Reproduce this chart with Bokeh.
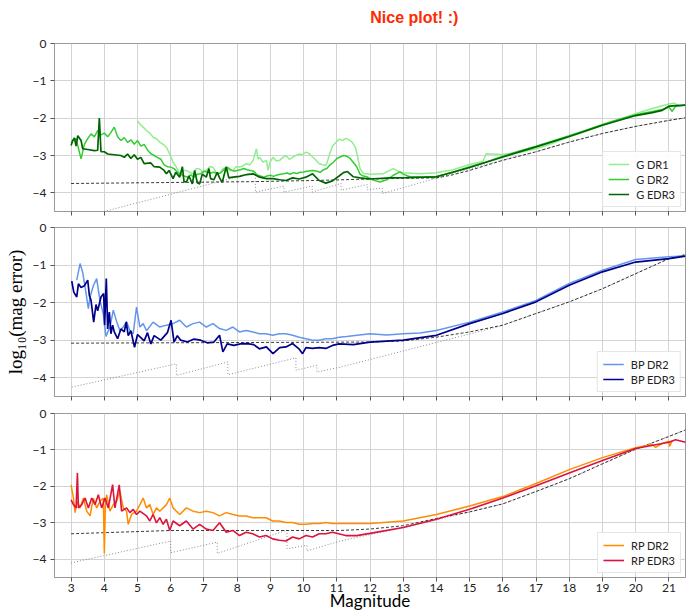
from bokeh.plotting import figure
from bokeh.models import Range1d, FixedTicker, CustomJSTickFormatter, Label
from bokeh.layouts import column
from bokeh.embed import file_html
from bokeh.resources import INLINE

# ---------------- data ----------------
x_ticks = list(range(3, 22))
y_ticks = [0, -1, -2, -3, -4]

# G band
g_dr1_mag = [5.0, 5.07, 5.17, 5.27, 5.37, 5.47, 5.57, 5.67, 5.77, 5.87, 5.97, 6.07, 6.17, 6.27, 6.37, 6.47,
             6.57, 6.67, 6.77, 6.87, 6.97, 7.07, 7.17, 7.27, 7.37, 7.47, 7.57, 7.67, 7.77, 7.87, 7.97, 8.07,
             8.17, 8.28, 8.38, 8.48, 8.58, 8.63, 8.68, 8.78, 8.88, 8.93, 8.98, 9.08, 9.18, 9.28, 9.38, 9.47,
             9.57, 9.67, 9.77, 9.87, 9.97, 10.07, 10.17, 10.27, 10.37, 10.47, 10.57, 10.67, 10.72, 10.77,
             10.87, 10.97, 11.07, 11.17, 11.27, 11.37, 11.47, 11.57, 11.62, 11.7, 11.8, 12.0, 12.4, 12.55,
             12.7, 12.85, 13.0, 13.5, 14.0, 14.5, 15.0, 15.4, 15.5, 16.0, 16.5, 17.0, 17.5, 18.0, 18.5, 19.0,
             19.5, 20.0, 20.5, 21.0, 21.15, 21.3]
g_dr1_err = [-2.07, -2.16, -2.24, -2.33, -2.4, -2.51, -2.55, -2.64, -2.7, -2.78, -2.96, -3.18, -3.31, -3.49, -3.4, -3.4,
             -3.45, -3.49, -3.35, -3.36, -3.45, -3.4, -3.3, -3.31, -3.45, -3.49, -3.35, -3.31, -3.4, -3.4, -3.3, -3.31,
             -3.28, -3.22, -3.25, -3.13, -2.82, -3.1, -3.05, -3.18, -3.13, -3.4, -3.2, -3.05, -3.15, -3.13, -3.05, -3.0,
             -3.1, -3.05, -3.0, -2.96, -2.98, -2.91, -2.95, -3.04, -3.12, -3.22, -3.25, -3.26, -3.15, -3.0,
             -2.75, -2.65, -2.56, -2.6, -2.54, -2.58, -2.65, -2.8, -3.0, -3.35, -3.48, -3.5, -3.49, -3.42,
             -3.35, -3.42, -3.46, -3.49, -3.46, -3.38, -3.24, -3.16, -2.95, -2.97, -2.92, -2.82, -2.67, -2.5, -2.35, -2.19,
             -2.04, -1.88, -1.74, -1.62, -1.6, -1.66]

g_dr2_mag = [3.0, 3.05, 3.15, 3.3, 3.4, 3.5, 3.6, 3.7, 3.8, 3.9, 4.0, 4.1, 4.2, 4.3, 4.4, 4.5, 4.6, 4.7, 4.8, 4.9,
             5.0, 5.1, 5.2, 5.3, 5.4, 5.5, 5.6, 5.7, 5.8, 5.9, 6.0, 6.1, 6.2, 6.3, 6.4, 6.5, 6.6, 6.7, 6.8, 6.9,
             7.0, 7.1, 7.2, 7.3, 7.4, 7.5, 7.6, 7.7, 7.8, 7.9, 8.0, 8.1, 8.2, 8.3, 8.4, 8.5, 8.6, 8.7, 8.8, 8.9,
             9.0, 9.1, 9.2, 9.3, 9.4, 9.5, 9.6, 9.7, 9.8, 9.9, 10.0, 10.1, 10.2, 10.3, 10.4, 10.5, 10.6, 10.7,
             10.8, 10.9, 11.0, 11.1, 11.2, 11.3, 11.4, 11.5, 11.6, 11.7, 11.8, 11.9, 12.1, 12.3, 12.5, 12.7,
             12.9, 13.0, 13.2, 13.6, 14.0, 14.5, 15.0, 15.5, 16.0, 16.5, 17.0, 17.5, 18.0, 18.5, 19.0, 19.5,
             20.0, 20.5, 20.8, 21.0, 21.1, 21.2, 21.5]
g_dr2_err = [-2.65, -2.6, -2.55, -3.09, -2.7, -2.55, -2.42, -2.5, -2.33, -2.45, -2.4, -2.5, -2.38, -2.24, -2.5, -2.6, -2.52, -2.65, -2.58, -2.7,
             -2.6, -2.75, -2.7, -2.85, -2.95, -3.0, -3.05, -3.1, -3.25, -3.3, -3.31, -3.35, -3.45, -3.5, -3.55, -3.58, -3.52, -3.58, -3.5, -3.49,
             -3.42, -3.44, -3.47, -3.45, -3.48, -3.47, -3.38, -3.31, -3.38, -3.42, -3.4, -3.38, -3.35, -3.38, -3.4, -3.42, -3.52, -3.55, -3.58, -3.55,
             -3.53, -3.56, -3.52, -3.5, -3.49, -3.47, -3.5, -3.46, -3.48, -3.45, -3.44, -3.42, -3.41, -3.4, -3.42, -3.45, -3.38, -3.35,
             -3.25, -3.18, -3.08, -3.04, -3.0, -3.02, -3.08, -3.19, -3.3, -3.5, -3.55, -3.57, -3.66, -3.71, -3.65, -3.53,
             -3.44, -3.5, -3.57, -3.58, -3.56, -3.45, -3.3, -3.17, -3.02, -2.88, -2.75, -2.61, -2.47, -2.32, -2.17, -2.03,
             -1.91, -1.82, -1.77, -1.7, -1.82, -1.68, -1.65]

g_edr3_mag = [3.0, 3.05, 3.1, 3.15, 3.2, 3.3, 3.35, 3.5, 3.7, 3.8, 3.85, 3.9, 4.0, 4.1, 4.3, 4.5, 4.6, 4.7, 4.8, 4.9,
              5.0, 5.1, 5.2, 5.4, 5.5, 5.67, 5.8, 5.87, 5.95, 6.07, 6.15, 6.27, 6.35, 6.4, 6.47, 6.55, 6.65, 6.72,
              6.8, 6.87, 6.95, 7.07, 7.15, 7.2, 7.3, 7.4, 7.47, 7.55, 7.67, 7.75, 7.87, 8.07, 8.28, 8.48, 8.68,
              8.88, 9.08, 9.28, 9.47, 9.67, 9.87, 10.07, 10.27, 10.47, 10.67, 10.87, 11.07, 11.2, 11.32, 11.5,
              11.7, 12.0, 12.6, 13.1, 14.0, 15.0, 16.0, 17.0, 18.0, 19.0, 20.0, 20.5, 20.8, 21.0, 21.5]
g_edr3_err = [-2.73, -2.6, -2.53, -2.75, -2.47, -2.6, -2.82, -2.84, -2.87, -2.86, -2.0, -2.9, -2.9, -2.96, -2.98, -3.0, -3.05, -2.96, -3.08, -2.98,
              -3.1, -3.05, -3.22, -3.2, -3.3, -3.31, -3.4, -3.49, -3.4, -3.62, -3.45, -3.58, -3.3, -3.7, -3.71, -3.55, -3.76, -3.4,
              -3.73, -3.76, -3.5, -3.58, -3.35, -3.62, -3.65, -3.45, -3.6, -3.72, -3.31, -3.6, -3.58, -3.56, -3.51, -3.49, -3.58,
              -3.62, -3.62, -3.65, -3.67, -3.6, -3.63, -3.58, -3.49, -3.67, -3.74, -3.68, -3.55, -3.46, -3.43, -3.57,
              -3.6, -3.63, -3.6, -3.59, -3.57, -3.32, -3.04, -2.77, -2.49, -2.19, -1.93, -1.85, -1.79, -1.68, -1.65]

g_floor_mag = [3.0, 8.5, 10.3, 12.0, 13.0, 14.0, 14.43, 15.0, 16.0, 17.0, 18.0, 19.0, 20.0, 21.0, 21.5]
g_floor_err = [-3.75, -3.7, -3.67, -3.63, -3.61, -3.6, -3.53, -3.4, -3.13, -2.9, -2.64, -2.41, -2.22, -2.06, -1.99]

g_step_mag = [3.99, 8.55, 8.55, 9.41, 9.41, 10.26, 10.26, 11.13, 11.13, 11.92, 11.92, 12.37, 12.37, 14.43, 16.0,
              17.0, 18.0, 19.0, 20.0, 21.0, 21.5]
g_step_err = [-4.5, -3.45, -3.98, -3.82, -3.98, -3.82, -3.98, -3.75, -3.93, -3.78, -3.92, -3.87, -4.02, -3.5, -3.12,
              -2.9, -2.64, -2.41, -2.22, -2.06, -1.99]

# BP band
bp_dr2_mag = [3.17, 3.27, 3.35, 3.42, 3.52, 3.57, 3.67, 3.77, 3.87, 3.97, 4.05, 4.17, 4.27, 4.37, 4.47, 4.57, 4.67,
              4.77, 4.87, 4.97, 5.07, 5.17, 5.27, 5.47, 5.67, 5.87, 6.07, 6.27, 6.47, 6.67, 6.87, 7.07, 7.27,
              7.47, 7.67, 7.87, 8.07, 8.27, 8.47, 8.67, 8.87, 9.07, 9.27, 9.47, 9.67, 9.87, 10.07, 10.27, 10.47,
              10.67, 10.87, 11.07, 11.3, 12.0, 12.5, 13.0, 13.5, 14.0, 15.0, 16.0, 17.0, 18.0, 19.0, 20.0, 21.0, 21.5]
bp_dr2_err = [-1.4, -0.96, -1.2, -1.58, -2.16, -1.85, -1.55, -1.36, -1.95, -2.3, -2.9, -2.65, -2.2, -2.5, -2.75, -2.65, -2.5,
              -2.75, -2.83, -2.12, -2.65, -2.56, -2.75, -2.52, -2.65, -2.6, -2.56, -2.47, -2.65, -2.56, -2.52, -2.65, -2.56,
              -2.69, -2.74, -2.65, -2.78, -2.74, -2.78, -2.83, -2.83, -2.87, -2.83, -2.83, -2.87, -2.92, -2.96, -3.0, -3.0,
              -2.96, -2.96, -2.92, -2.9, -2.83, -2.86, -2.83, -2.81, -2.74, -2.52, -2.25, -1.94, -1.49, -1.14, -0.85, -0.78, -0.76]

bp_edr3_mag = [3.02, 3.08, 3.17, 3.22, 3.3, 3.4, 3.5, 3.55, 3.6, 3.68, 3.75, 3.8, 3.9, 3.98, 4.01, 4.06, 4.1, 4.15,
               4.2, 4.25, 4.3, 4.4, 4.5, 4.6, 4.66, 4.72, 4.8, 4.91, 5.0, 5.1, 5.2, 5.3, 5.4, 5.5, 5.7, 5.9, 6.01,
               6.1, 6.2, 6.3, 6.5, 6.7, 6.9, 7.1, 7.3, 7.47, 7.57, 7.7, 7.9, 8.1, 8.3, 8.5, 8.67, 8.88, 9.08, 9.28,
               9.47, 9.67, 9.87, 9.97, 10.07, 10.27, 10.47, 10.67, 10.87, 11.07, 11.5, 12.0, 13.0, 14.0, 15.0,
               16.0, 17.0, 18.0, 19.0, 20.0, 21.0, 21.5]
bp_edr3_err = [-1.43, -1.72, -1.85, -1.5, -1.6, -1.55, -1.4, -1.81, -1.94, -2.52, -2.05, -2.22, -1.85, -1.76, -2.6, -1.36, -2.7, -2.25,
               -2.83, -2.6, -2.78, -2.96, -2.7, -2.78, -2.52, -2.88, -2.75, -3.19, -2.85, -2.93, -3.02, -2.8, -3.1, -2.88, -3.0, -2.8, -2.47,
               -3.05, -2.88, -3.0, -3.05, -2.97, -3.0, -3.07, -3.05, -2.87, -3.31, -3.1, -3.14, -3.1, -3.09, -3.12, -3.23, -3.18, -3.36, -3.2,
               -3.18, -3.09, -3.24, -3.36, -3.2, -3.22, -3.2, -3.22, -3.14, -3.1, -3.12, -3.05, -3.0, -2.87, -2.56,
               -2.29, -1.98, -1.54, -1.18, -0.92, -0.83, -0.76]

bp_floor_mag = [3.0, 12.0, 13.0, 14.0, 15.0, 16.0, 17.0, 18.0, 19.0, 20.0, 21.0, 21.5]
bp_floor_err = [-3.08, -3.05, -3.02, -2.92, -2.78, -2.6, -2.29, -1.98, -1.63, -1.23, -0.83, -0.72]

bp_step_mag = [3.02, 6.17, 6.17, 7.72, 7.72, 9.77, 9.77, 10.4, 10.4, 11.1, 15.9, 17.0, 18.0, 19.0, 20.0, 21.0, 21.5]
bp_step_err = [-4.25, -3.63, -3.94, -3.58, -3.92, -3.47, -3.8, -3.67, -3.85, -3.72, -2.63, -2.29, -1.98, -1.63, -1.23, -0.83, -0.72]

# RP band
rp_dr2_mag = [3.0, 3.07, 3.12, 3.19, 3.27, 3.37, 3.47, 3.57, 3.67, 3.77, 3.87, 3.97, 4.0, 4.03, 4.07, 4.17, 4.27,
              4.37, 4.47, 4.57, 4.67, 4.72, 4.82, 4.97, 5.17, 5.27, 5.37, 5.47, 5.57, 5.67, 5.77, 5.87, 5.97,
              6.07, 6.27, 6.47, 6.67, 6.87, 7.07, 7.27, 7.47, 7.67, 7.87, 8.07, 8.27, 8.47, 8.67, 8.87, 9.07,
              9.27, 9.47, 9.67, 9.87, 10.07, 10.27, 10.47, 10.67, 10.87, 11.1, 12.0, 13.0, 14.0, 15.0, 16.0,
              17.0, 18.0, 19.0, 20.0, 20.5, 20.6, 20.8, 21.0, 21.02, 21.1]
rp_dr2_err = [-1.96, -2.32, -2.72, -2.41, -2.59, -2.32, -2.68, -2.81, -2.32, -2.59, -2.41, -2.32, -3.84, -2.59, -2.23, -2.68, -2.5,
              -2.41, -2.14, -2.59, -2.68, -3.04, -2.77, -2.68, -2.32, -2.59, -2.5, -2.77, -2.59, -2.68, -2.59, -2.5, -2.32,
              -2.59, -2.77, -2.59, -2.68, -2.72, -2.68, -2.72, -2.81, -2.72, -2.77, -2.81, -2.81, -2.86, -2.86, -2.86, -2.95,
              -2.95, -2.99, -2.99, -3.04, -3.04, -3.02, -3.02, -2.99, -3.02, -3.02, -3.02, -2.95, -2.77, -2.54, -2.28,
              -1.92, -1.54, -1.21, -0.94, -0.85, -0.93, -0.82, -0.76, -0.9, -0.75]

rp_edr3_mag = [3.0, 3.07, 3.15, 3.19, 3.22, 3.32, 3.42, 3.52, 3.62, 3.72, 3.82, 3.92, 4.02, 4.12, 4.25, 4.32, 4.45,
               4.52, 4.67, 4.77, 4.87, 4.97, 5.07, 5.27, 5.37, 5.47, 5.57, 5.67, 5.77, 5.87, 5.97, 6.07, 6.27,
               6.47, 6.67, 6.87, 7.07, 7.27, 7.47, 7.67, 7.87, 8.07, 8.27, 8.47, 8.67, 8.87, 9.07, 9.27, 9.47,
               9.67, 9.87, 10.07, 10.27, 10.47, 10.67, 10.87, 11.27, 11.6, 12.0, 13.0, 14.0, 15.0, 16.0, 17.0,
               18.0, 19.0, 20.0, 21.0, 21.2, 21.5]
rp_edr3_err = [-2.37, -2.5, -2.59, -1.63, -2.59, -2.5, -2.32, -2.59, -2.32, -2.5, -2.23, -2.59, -2.32, -2.59, -1.95, -2.59, -1.96,
               -2.68, -2.59, -2.72, -2.63, -2.77, -2.68, -2.81, -2.95, -2.77, -3.0, -2.86, -3.04, -2.9, -3.21, -2.95, -3.08,
               -2.95, -3.17, -3.04, -3.17, -3.21, -3.0, -3.26, -3.21, -3.35, -3.26, -3.3, -3.39, -3.35, -3.44, -3.48, -3.5,
               -3.39, -3.44, -3.35, -3.39, -3.3, -3.3, -3.26, -3.35, -3.35, -3.29, -3.13, -2.9, -2.63, -2.32, -1.98,
               -1.63, -1.29, -0.96, -0.79, -0.72, -0.79]

rp_floor_mag = [3.0, 6.0, 11.1, 12.0, 13.0, 14.0, 15.0, 16.0, 17.0, 18.0, 19.0, 20.0, 21.0, 21.5]
rp_floor_err = [-3.3, -3.21, -3.21, -3.17, -3.08, -2.88, -2.7, -2.48, -2.14, -1.79, -1.38, -0.98, -0.63, -0.45]

rp_step_mag = [3.0, 6.0, 6.0, 7.4, 7.4, 9.5, 9.5, 10.1, 10.1, 11.1, 13.0, 14.0, 15.0, 16.0, 17.0, 18.0, 19.0, 20.0, 21.0, 21.5]
rp_step_err = [-4.1, -3.5, -3.82, -3.53, -3.84, -3.2, -3.71, -3.62, -3.77, -3.5, -3.13, -2.92, -2.7, -2.48, -2.14, -1.79, -1.38, -0.98, -0.63, -0.45]

title_text = "Nice plot! :)"

# ---------------- styling ----------------
TICK_FONT = "Lato"
SPINE = "#9a9a9a"
GRID = "#d3d3d3"
x_range = Range1d(2.5, 21.5)

# title strip (a bare figure holding the suptitle)
TITLE_H = 34
p0 = figure(width=691, height=TITLE_H, x_range=Range1d(0, 691), y_range=Range1d(0, TITLE_H),
            output_backend="svg", toolbar_location=None, min_border=0)
p0.axis.visible = False
p0.grid.visible = False
p0.outline_line_color = None
p0.background_fill_color = "white"
p0.border_fill_color = "white"
p0.add_layout(Label(x=394, y=TITLE_H - 17, text=title_text, text_align="center", text_baseline="middle",
                    text_color="#ff2a00", text_font="Liberation Sans", text_font_size="16px",
                    text_font_style="bold"))


def make_panel(height, top, bottom, labels):
    p = figure(width=691, height=height, x_range=x_range, y_range=Range1d(-4.5, 0),
               output_backend="svg", toolbar_location=None,
               min_border_left=54, min_border_right=6, min_border_top=top, min_border_bottom=bottom)
    p.background_fill_color = "white"
    p.border_fill_color = "white"
    p.outline_line_color = SPINE
    p.outline_line_width = 1
    p.xgrid.ticker = FixedTicker(ticks=x_ticks)
    p.ygrid.ticker = FixedTicker(ticks=y_ticks)
    p.grid.grid_line_color = GRID
    p.grid.grid_line_width = 1
    for ax in (p.xaxis[0], p.yaxis[0]):
        ax.axis_line_color = SPINE
        ax.major_tick_line_color = "#555555"
        ax.major_tick_out = 4
        ax.major_tick_in = 0
        ax.minor_tick_line_color = None
        ax.major_label_text_font = TICK_FONT
        ax.major_label_text_font_size = "12px"
        ax.major_label_text_color = "#222222"
    p.xaxis.ticker = FixedTicker(ticks=x_ticks)
    p.yaxis.ticker = FixedTicker(ticks=y_ticks)
    p.yaxis.formatter = CustomJSTickFormatter(code="return tick == 0 ? '0' : '\u2212' + Math.abs(tick).toFixed(0);")
    p.yaxis.major_label_standoff = 4
    if labels:
        p.xaxis.major_label_standoff = 2
    else:
        p.xaxis.formatter = CustomJSTickFormatter(code="return '';")
        p.xaxis.major_label_standoff = 0
        p.xaxis.major_label_text_font_size = "1px"
    return p


def models(p, fm, fe, sm, se):
    p.line(sm, se, line_color="#808080", line_width=0.9, line_dash="1 2")
    p.line(fm, fe, line_color="#222222", line_width=0.9, line_dash="3 2")


def style_legend(p):
    lg = p.legend[0]
    lg.location = "bottom_right"
    lg.margin = 4
    lg.padding = 5
    lg.spacing = 1
    lg.glyph_width = 21
    lg.glyph_height = 14
    lg.label_height = 14
    lg.label_standoff = 7
    lg.label_text_font = TICK_FONT
    lg.label_text_font_size = "11px"
    lg.label_text_color = "#222222"
    lg.border_line_color = "#cccccc"
    lg.border_line_width = 1
    lg.background_fill_alpha = 0.9


# Panel 1 : G
p1 = make_panel(219 - TITLE_H, 43 - TITLE_H, 8, False)
models(p1, g_floor_mag, g_floor_err, g_step_mag, g_step_err)
p1.line(g_dr1_mag, g_dr1_err, line_color="#90ee90", line_width=1.5, legend_label="G DR1")
p1.line(g_dr2_mag, g_dr2_err, line_color="#32cd32", line_width=1.5, legend_label="G DR2")
p1.line(g_edr3_mag, g_edr3_err, line_color="#006400", line_width=1.7, legend_label="G EDR3")
style_legend(p1)

# Panel 2 : BP
p2 = make_panel(185, 8, 8, False)
models(p2, bp_floor_mag, bp_floor_err, bp_step_mag, bp_step_err)
p2.line(bp_dr2_mag, bp_dr2_err, line_color="#6495ed", line_width=1.5, legend_label="BP DR2")
p2.line(bp_edr3_mag, bp_edr3_err, line_color="#00008b", line_width=1.7, legend_label="BP EDR3")
style_legend(p2)
p2.yaxis.axis_label = "log\u2081\u2080(mag error)"
p2.yaxis.axis_label_text_font = "Liberation Serif"
p2.yaxis.axis_label_text_font_size = "19px"
p2.yaxis.axis_label_text_font_style = "normal"
p2.yaxis.axis_label_text_color = "black"
p2.yaxis.axis_label_standoff = 4

# Panel 3 : RP
p3 = make_panel(209, 9, 32, True)
models(p3, rp_floor_mag, rp_floor_err, rp_step_mag, rp_step_err)
p3.line(rp_dr2_mag, rp_dr2_err, line_color="#ff8c00", line_width=1.5, legend_label="RP DR2")
p3.line(rp_edr3_mag, rp_edr3_err, line_color="#dc143c", line_width=1.6, legend_label="RP EDR3")
style_legend(p3)
p3.xaxis.axis_label = "Magnitude"
p3.xaxis.axis_label_text_font = TICK_FONT
p3.xaxis.axis_label_text_font_size = "17px"
p3.xaxis.axis_label_text_font_style = "normal"
p3.xaxis.axis_label_text_color = "black"
p3.xaxis.axis_label_standoff = -5

layout = column(p0, p1, p2, p3, spacing=0)
open("out.html", "w").write(file_html(layout, INLINE))
